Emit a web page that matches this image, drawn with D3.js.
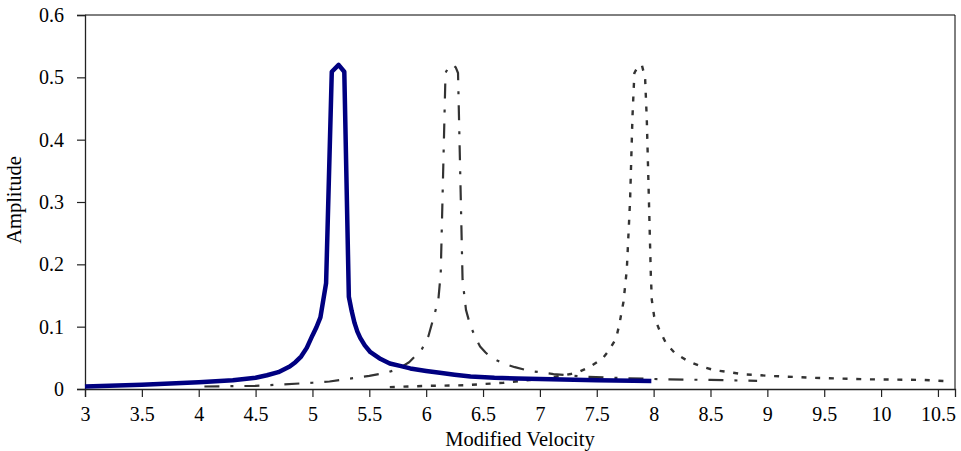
<!DOCTYPE html>
<html>
<head>
<meta charset="utf-8">
<script src="https://cdn.jsdelivr.net/npm/d3@7"></script>
<style>
  html, body { margin: 0; padding: 0; background: #fff; }
  svg { display: block; }
  text { font-family: "Liberation Serif", "Times New Roman", serif; fill: #000; }
</style>
</head>
<body>
<svg id="chart" width="961" height="451"></svg>
<script>
// Response curves: modified velocity vs amplitude
const seriesA_x = [3.0, 3.5, 4.0, 4.3, 4.5, 4.6, 4.7, 4.8, 4.85, 4.9, 4.95, 5.0, 5.035, 5.07, 5.12, 5.17, 5.23, 5.28, 5.32, 5.345, 5.37, 5.395, 5.42, 5.46, 5.51, 5.6, 5.68, 5.77, 5.86, 6.0, 6.12, 6.25, 6.39, 6.6, 6.8, 7.0, 7.5, 7.98];
const seriesA_y = [0.004, 0.007, 0.011, 0.014, 0.018, 0.022, 0.027, 0.036, 0.043, 0.052, 0.066, 0.086, 0.099, 0.115, 0.17, 0.509, 0.52, 0.509, 0.148, 0.125, 0.106, 0.092, 0.082, 0.070, 0.059, 0.048, 0.041, 0.037, 0.033, 0.029, 0.026, 0.023, 0.020, 0.018, 0.017, 0.016, 0.014, 0.013];

const seriesB_x = [4.05, 4.5, 5.0, 5.15, 5.5, 5.65, 5.75, 5.85, 5.96, 6.02, 6.06, 6.107, 6.128, 6.17, 6.2, 6.23, 6.26, 6.28, 6.32, 6.35, 6.386, 6.43, 6.474, 6.52, 6.56, 6.62, 6.68, 6.78, 6.91, 7.0, 7.12, 7.38, 7.62, 8.12, 8.5, 8.91];
const seriesB_y = [0.004, 0.005, 0.010, 0.012, 0.021, 0.026, 0.032, 0.043, 0.063, 0.085, 0.111, 0.143, 0.186, 0.507, 0.518, 0.521, 0.516, 0.507, 0.175, 0.127, 0.103, 0.084, 0.068, 0.059, 0.052, 0.046, 0.041, 0.035, 0.029, 0.027, 0.024, 0.020, 0.018, 0.0155, 0.0145, 0.013];

const seriesC_x = [5.68, 6.0, 6.33, 6.68, 6.91, 7.05, 7.18, 7.27, 7.35, 7.41, 7.46, 7.51, 7.56, 7.60, 7.67, 7.70, 7.735, 7.764, 7.793, 7.814, 7.831, 7.86, 7.896, 7.925, 7.94, 7.96, 7.975, 7.984, 8.005, 8.05, 8.11, 8.19, 8.30, 8.42, 8.54, 8.67, 8.79, 8.91, 9.02, 9.40, 9.90, 10.37, 10.62];
const seriesC_y = [0.003, 0.005, 0.006, 0.010, 0.0145, 0.017, 0.021, 0.024, 0.028, 0.033, 0.038, 0.044, 0.051, 0.060, 0.081, 0.105, 0.14, 0.191, 0.303, 0.437, 0.507, 0.517, 0.520, 0.499, 0.432, 0.293, 0.186, 0.143, 0.116, 0.095, 0.073, 0.057, 0.045, 0.036, 0.030, 0.027, 0.0235, 0.0225, 0.021, 0.018, 0.0155, 0.0145, 0.012];

const xTicks = [3, 3.5, 4, 4.5, 5, 5.5, 6, 6.5, 7, 7.5, 8, 8.5, 9, 9.5, 10, 10.5];
const yTicks = [0, 0.1, 0.2, 0.3, 0.4, 0.5, 0.6];
const xTitle = "Modified Velocity";
const yTitle = "Amplitude";

const svg = d3.select("#chart");
const plotLeft = 85, plotRight = 955, plotTop = 15, plotBottom = 389;

const x = d3.scaleLinear().domain([3, 10.65]).range([plotLeft, plotRight]);
const y = d3.scaleLinear().domain([0, 0.6]).range([plotBottom, plotTop]);

// plot frame (top and right edges)
svg.append("path")
  .attr("d", `M${plotLeft},${plotTop}H${plotRight}V${plotBottom}`)
  .attr("fill", "none").attr("stroke", "#000").attr("stroke-width", 1);

const serif = "'Liberation Serif', 'Times New Roman', serif";
const tickFont = 20;
const titleFont = 20.5;

const xAxis = svg.append("g")
  .attr("transform", `translate(0,${plotBottom})`)
  .call(d3.axisBottom(x).tickValues(xTicks).tickSize(8).tickPadding(10)
        .tickFormat(d3.format("~g")));
const yAxis = svg.append("g")
  .attr("transform", `translate(${plotLeft},0)`)
  .call(d3.axisLeft(y).tickValues(yTicks).tickSize(8).tickPadding(13)
        .tickFormat(d3.format("~g")));

[xAxis, yAxis].forEach(g => {
  g.attr("font-family", null).attr("font-size", null);
  g.select(".domain").attr("stroke", "#222").attr("stroke-width", 1.3);
  g.selectAll(".tick line").attr("stroke", "#222").attr("stroke-width", 1.2);
  g.selectAll(".tick text")
    .style("font-family", serif)
    .style("font-size", tickFont + "px").attr("fill", "#000");
});

svg.append("text")
  .attr("x", (plotLeft + plotRight) / 2).attr("y", 446)
  .attr("text-anchor", "middle")
  .style("font-family", serif).style("font-size", titleFont + "px")
  .text(xTitle);
svg.append("text")
  .attr("transform", `translate(21,200) rotate(-90)`)
  .attr("text-anchor", "middle")
  .style("font-family", serif).style("font-size", titleFont + "px")
  .text(yTitle);

const line = d3.line().x(d => x(d[0])).y(d => y(d[1]));
const zip = (xs, ys) => xs.map((v, i) => [v, ys[i]]);

const plot = svg.append("g");

plot.append("path")
  .datum(zip(seriesC_x, seriesC_y))
  .attr("d", line)
  .attr("fill", "none").attr("stroke", "#333")
  .attr("stroke-width", 2.4).attr("stroke-dasharray", "5,8.7");

plot.append("path")
  .datum(zip(seriesB_x, seriesB_y))
  .attr("d", line)
  .attr("fill", "none").attr("stroke", "#333")
  .attr("stroke-width", 2.2).attr("stroke-dasharray", "15,11,3,11")
  .attr("stroke-linejoin", "round");

plot.append("path")
  .datum(zip(seriesA_x, seriesA_y))
  .attr("d", line)
  .attr("fill", "none").attr("stroke", "#000080")
  .attr("stroke-width", 4.5).attr("stroke-linejoin", "round");
</script>
</body>
</html>
